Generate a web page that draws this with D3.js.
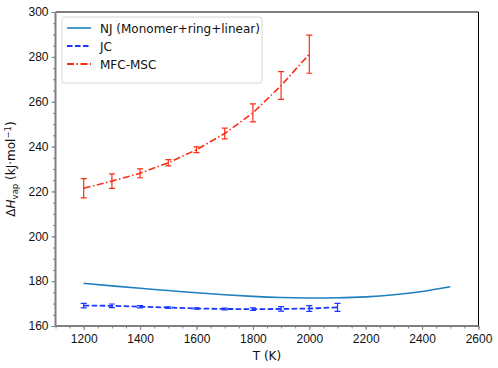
<!DOCTYPE html>
<html lang="en">
<head>
  <meta charset="UTF-8">
  <title>Heat of vaporization vs T</title>
  <script src="https://d3js.org/d3.v7.min.js"></script>
  <style>
    body { margin: 0; background: #fff; }
    svg { font-family: 'DejaVu Sans', sans-serif; }
    .tick text { font-size: 12px; fill: #111; }
  </style>
</head>
<body>
  <div id="chart"></div>
  <script>
    // NJ (Monomer+ring+linear): smooth curve
    const njT = [1200, 1300, 1400, 1500, 1600, 1700, 1800, 1900, 2000, 2100, 2200, 2300, 2400, 2500];
    const njH = [179.0, 177.9, 176.8, 175.8, 174.8, 173.9, 173.2, 172.7, 172.5, 172.6, 173.0, 173.9, 175.4, 177.5];

    // JC with error bars
    const jcT = [1200, 1300, 1400, 1500, 1600, 1700, 1800, 1900, 2000, 2100];
    const jcH = [169.1, 169.0, 168.6, 168.2, 167.8, 167.6, 167.5, 167.6, 167.8, 168.3];
    const jcErr = [1.0, 0.8, 0.5, 0.3, 0.3, 0.4, 0.6, 1.0, 1.3, 1.8];

    // MFC-MSC with error bars
    const mfcT = [1200, 1300, 1400, 1500, 1600, 1700, 1800, 1900, 2000];
    const mfcH = [221.4, 224.6, 228.1, 232.8, 238.6, 245.8, 255.0, 267.2, 281.2];
    const mfcErr = [4.3, 3.2, 2.0, 1.4, 1.3, 2.4, 4.0, 6.2, 8.5];

    const xTicks = [1200, 1400, 1600, 1800, 2000, 2200, 2400, 2600];
    const yTicks = [160, 180, 200, 220, 240, 260, 280, 300];

    const W = 498, H = 368;
    const m = { left: 55.5, right: 19.5, top: 12, bottom: 42 };

    const svg = d3.select("#chart").append("svg")
      .attr("width", W).attr("height", H);

    const x = d3.scaleLinear().domain([1100, 2600]).range([m.left, W - m.right]);
    const y = d3.scaleLinear().domain([160, 300]).range([H - m.bottom, m.top]);

    svg.append("clipPath").attr("id", "clip")
      .append("rect")
      .attr("x", m.left).attr("y", m.top)
      .attr("width", W - m.left - m.right).attr("height", H - m.top - m.bottom);

    // minor ticks
    const xMinor = svg.append("g")
      .attr("transform", `translate(0,${H - m.bottom})`)
      .call(d3.axisBottom(x).tickValues(d3.range(1100, 2601, 50)).tickSize(2.5).tickFormat(""));
    const yMinor = svg.append("g")
      .attr("transform", `translate(${m.left},0)`)
      .call(d3.axisLeft(y).tickValues(d3.range(160, 301, 5)).tickSize(2.5).tickFormat(""));

    // major axes
    const xAxis = svg.append("g")
      .attr("transform", `translate(0,${H - m.bottom})`)
      .call(d3.axisBottom(x).tickValues(xTicks).tickSize(4).tickPadding(4).tickFormat(d3.format("d")));
    const yAxis = svg.append("g")
      .attr("transform", `translate(${m.left},0)`)
      .call(d3.axisLeft(y).tickValues(yTicks).tickSize(4).tickPadding(3).tickFormat(d3.format("d")));

    [xMinor, yMinor, xAxis, yAxis].forEach(g => {
      g.select(".domain").remove();
      g.selectAll("line").attr("stroke", "#808080").attr("stroke-width", 1);
    });

    // spines
    svg.append("line").attr("x1", m.left).attr("x2", W - m.right)
      .attr("y1", m.top).attr("y2", m.top).attr("stroke", "#000").attr("stroke-width", 1);
    svg.append("line").attr("x1", W - m.right).attr("x2", W - m.right)
      .attr("y1", m.top).attr("y2", H - m.bottom).attr("stroke", "#000").attr("stroke-width", 1);
    svg.append("line").attr("x1", m.left).attr("x2", m.left)
      .attr("y1", m.top).attr("y2", H - m.bottom).attr("stroke", "#808080").attr("stroke-width", 2);
    svg.append("line").attr("x1", m.left).attr("x2", W - m.right)
      .attr("y1", H - m.bottom).attr("y2", H - m.bottom).attr("stroke", "#808080").attr("stroke-width", 2);

    const plot = svg.append("g").attr("clip-path", "url(#clip)");

    const njColor = "#1f7fbf", jcColor = "#1a35ff", mfcColor = "#fb2e14";

    // NJ line
    const njLine = d3.line().x((d, i) => x(njT[i])).y(d => y(d)).curve(d3.curveNatural);
    plot.append("path").datum(njH)
      .attr("d", njLine).attr("fill", "none")
      .attr("stroke", njColor).attr("stroke-width", 1.6);

    function errorSeries(ts, hs, errs, color, dash, width) {
      const line = d3.line().x((d, i) => x(ts[i])).y(d => y(d));
      plot.append("path").datum(hs)
        .attr("d", line).attr("fill", "none")
        .attr("stroke", color).attr("stroke-width", width)
        .attr("stroke-dasharray", dash);
      const bars = plot.selectAll(null).data(hs.map((h, i) => ({ t: ts[i], h, e: errs[i] })))
        .enter().append("g").attr("stroke", color).attr("stroke-width", 1.2);
      bars.append("line")
        .attr("x1", d => x(d.t)).attr("x2", d => x(d.t))
        .attr("y1", d => y(d.h - d.e)).attr("y2", d => y(d.h + d.e));
      bars.append("line")
        .attr("x1", d => x(d.t) - 3).attr("x2", d => x(d.t) + 3)
        .attr("y1", d => y(d.h - d.e)).attr("y2", d => y(d.h - d.e));
      bars.append("line")
        .attr("x1", d => x(d.t) - 3).attr("x2", d => x(d.t) + 3)
        .attr("y1", d => y(d.h + d.e)).attr("y2", d => y(d.h + d.e));
    }

    errorSeries(jcT, jcH, jcErr, jcColor, "5.5,2.5", 1.8);
    errorSeries(mfcT, mfcH, mfcErr, mfcColor, "7,2.5,1.5,2.5", 1.6);

    // axis labels
    svg.append("text")
      .attr("x", (m.left + W - m.right) / 2).attr("y", 360)
      .attr("text-anchor", "middle").attr("font-size", 12).attr("fill", "#111")
      .text("T (K)");

    const yl = svg.append("text")
      .attr("transform", `translate(15,${(m.top + H - m.bottom) / 2}) rotate(-90)`)
      .attr("text-anchor", "middle").attr("font-size", 12).attr("fill", "#111");
    yl.append("tspan").text("Δ");
    yl.append("tspan").attr("font-style", "italic").text("H");
    yl.append("tspan").attr("font-size", 8.5).attr("dy", 2.5).text("vap");
    yl.append("tspan").attr("dy", -2.5).text(" (kJ·mol");
    yl.append("tspan").attr("font-size", 8.5).attr("dy", -4.5).text("−1");
    yl.append("tspan").attr("dy", 4.5).text(")");

    // legend
    const legendNames = ["NJ (Monomer+ring+linear)", "JC", "MFC-MSC"];
    const legendColors = [njColor, jcColor, mfcColor];
    const legendDash = [null, "5.5,2.5", "7,2.5,1.5,2.5"];
    const lg = svg.append("g").attr("transform", "translate(62,17)");
    lg.append("rect").attr("width", 200).attr("height", 66).attr("rx", 2.5)
      .attr("fill", "#fff").attr("fill-opacity", 0.8)
      .attr("stroke", "#d6d6d6").attr("stroke-width", 1);
    legendNames.forEach((name, i) => {
      const yy = 11 + i * 18;
      lg.append("line").attr("x1", 5).attr("x2", 29).attr("y1", yy).attr("y2", yy)
        .attr("stroke", legendColors[i]).attr("stroke-width", i === 0 ? 1.6 : 1.8)
        .attr("stroke-dasharray", legendDash[i]);
      lg.append("text").attr("x", 38).attr("y", yy + 4.5)
        .attr("font-size", 12).attr("fill", "#111").text(name);
    });
  </script>
</body>
</html>
